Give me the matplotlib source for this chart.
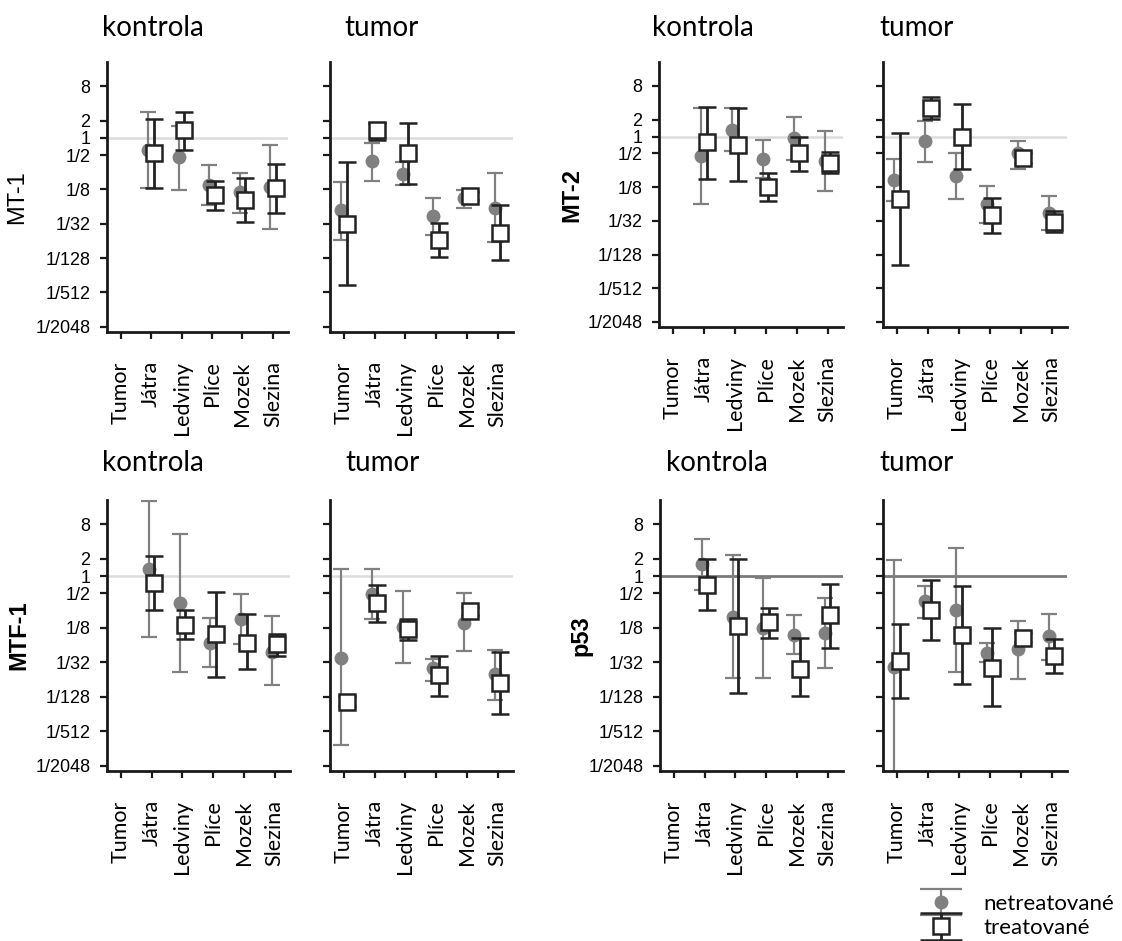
import numpy as np
import matplotlib
matplotlib.use('Agg')
import matplotlib.pyplot as plt
from matplotlib.legend_handler import HandlerErrorbar

plt.rcParams['font.family'] = ['Liberation Sans', 'DejaVu Sans']
CAL = ['Lato', 'DejaVu Sans']

tkane = ['Tumor', 'Játra', 'Ledviny', 'Plíce', 'Mozek', 'Slezina']
ytick_exp = [3, 1, 0, -1, -3, -5, -7, -9, -11]
ytick_lab = ['8', '2', '1', '1/2', '1/8', '1/32', '1/128', '1/512', '1/2048']

nan = np.nan
NA = (nan, nan, nan)

# log2 relativni exprese: (stred, dolni mez, horni mez) pro kazdou tkan
mt1_k_net = [NA, (-0.70, -2.90, 1.53), (-1.12, -3.02, 0.72), (-2.73, -3.90, -1.57), (-3.12, -4.36, -2.03), (-2.83, -5.29, -0.39)]
mt1_k_tr = [NA, (-0.89, -2.90, 1.10), (0.47, -0.68, 1.49), (-3.31, -4.22, -2.48), (-3.64, -4.90, -2.36), (-2.93, -4.36, -1.51)]
mt1_t_net = [(-4.19, -5.97, -2.54), (-1.36, -2.48, -0.31), (-2.09, -2.77, -1.41), (-4.55, -5.68, -3.49), (-3.51, -4.07, -3.06), (-4.07, -6.07, -2.03)]
mt1_t_tr = [(-5.00, -8.59, -1.41), (0.47, -0.10, 0.87), (-0.87, -2.67, 0.85), (-5.93, -6.94, -4.96), (-3.41, -3.64, -3.16), (-5.54, -7.13, -3.88)]

mt2_k_net = [NA, (-1.18, -3.99, 1.67), (0.39, -0.83, 1.67), (-1.34, -2.46, -0.20), (-0.10, -1.42, 1.18), (-1.43, -3.24, 0.33)]
mt2_k_tr = [NA, (-0.33, -2.50, 1.77), (-0.53, -2.65, 1.67), (-2.99, -3.83, -2.16), (-0.98, -2.02, 0.00), (-1.57, -2.16, -0.94)]
mt2_t_net = [(-2.59, -3.83, -1.32), (-0.26, -1.51, 0.94), (-2.36, -3.69, -0.98), (-3.99, -5.15, -2.91), (-0.98, -1.93, -0.24), (-4.52, -5.56, -3.54)]
mt2_t_tr = [(-3.69, -7.60, 0.20), (1.67, 1.02, 2.32), (0.00, -1.91, 1.91), (-4.68, -5.74, -3.63), (-1.28, -1.57, -0.98), (-5.07, -5.66, -4.42)]

mtf1_k_net = [NA, (0.39, -3.53, 4.34), (-1.54, -5.53, 2.45), (-3.89, -5.26, -2.45), (-2.50, -3.91, -1.06), (-4.37, -6.32, -2.31)]
mtf1_k_tr = [NA, (-0.39, -1.98, 1.16), (-2.83, -3.66, -1.98), (-3.33, -5.82, -0.92), (-3.85, -5.39, -2.18), (-3.95, -4.62, -3.37)]
mtf1_t_net = [(-4.72, -9.77, 0.39), (-1.06, -2.50, 0.39), (-2.93, -5.05, -0.83), (-5.32, -6.07, -4.78), (-2.70, -4.34, -1.00), (-5.68, -7.17, -4.28)]
mtf1_t_tr = [(-7.27, -7.55, -6.94), (-1.54, -2.66, -0.52), (-3.08, -3.70, -2.50), (-5.74, -6.96, -4.62), (-2.02, -2.25, -1.80), (-6.20, -8.00, -4.37)]

p53_k_net = [NA, (0.73, -0.81, 2.18), (-2.35, -5.93, 1.21), (-3.00, -5.93, -0.10), (-3.43, -4.53, -2.27), (-3.28, -5.34, -1.25)]
p53_k_tr = [NA, (-0.52, -1.98, 1.02), (-2.89, -6.78, 1.02), (-2.66, -3.56, -1.83), (-5.36, -6.96, -3.56), (-2.23, -4.14, -0.44)]
p53_t_net = [(-5.26, -14.0, 0.94), (-1.45, -2.41, -0.58), (-1.97, -5.55, 1.64), (-4.45, -4.97, -3.85), (-4.24, -5.97, -2.60), (-3.47, -4.85, -2.21)]
p53_t_tr = [(-4.91, -7.07, -2.75), (-1.97, -3.68, -0.23), (-3.43, -6.28, -0.54), (-5.30, -7.51, -3.02), (-3.56, -3.80, -3.30), (-4.62, -5.60, -3.62)]

W, H = 1122, 941
fig = plt.figure(figsize=(W / 100, H / 100), dpi=100)

GRAY = '#808080'
DARK = '#222222'


def rect(left, top, right, bottom):
    return [left / W, 1 - bottom / H, (right - left) / W, (bottom - top) / H]


def draw_series(ax, data, dx, color, **kw):
    arr = np.exp2(np.array(data, dtype=float))
    x = np.arange(len(tkane)) + dx
    mid, lo, hi = arr[:, 0], arr[:, 1], arr[:, 2]
    return ax.errorbar(x, mid, yerr=[mid - lo, hi - mid], color=color,
                       ecolor=color, linestyle='none', **kw)


def panel(r, net, tr, ylabel=None, bold=False, labcoord=-0.43, dark_ref=False):
    ax = fig.add_axes(r)
    ax.set_yscale('log', base=2)
    if dark_ref:
        ax.axhline(1, color='#7a7a7a', lw=2, zorder=1)
    else:
        ax.axhline(1, color='#dcdcdc', lw=1.8, zorder=1)
    c_net = draw_series(ax, net, -0.09, GRAY, marker='o', ms=9, mfc=GRAY, mec=GRAY,
                        elinewidth=1.6, capsize=6, capthick=1.6, zorder=2)
    c_tr = draw_series(ax, tr, 0.09, DARK, marker='s', ms=11, mfc='white', mec=DARK,
                       mew=1.8, elinewidth=2, capsize=6.5, capthick=2, zorder=3)
    ax.set_xlim(-0.45, 5.5)
    ax.set_ylim(2 ** -11.3, 2 ** 4.42)
    ax.set_xticks(range(len(tkane)))
    ax.set_xticklabels(tkane, rotation=90, fontsize=15.5, family=CAL)
    ax.set_yticks([2.0 ** e for e in ytick_exp])
    ax.minorticks_off()
    if ylabel:
        ax.set_yticklabels(ytick_lab, fontsize=13)
        ax.set_ylabel(ylabel, fontsize=17, fontweight='bold' if bold else 'normal')
        ax.yaxis.set_label_coords(labcoord, 0.5)
    else:
        ax.set_yticklabels([])
    for s in ('top', 'right'):
        ax.spines[s].set_visible(False)
    for s in ('left', 'bottom'):
        ax.spines[s].set_linewidth(2)
        ax.spines[s].set_color('#1a1a1a')
    ax.tick_params(axis='both', length=5, width=1.6, color='#1a1a1a')
    ax.tick_params(axis='y', pad=7)
    ax.tick_params(axis='x', pad=16)
    return ax, c_net, c_tr


panel(rect(107, 62, 288, 332), mt1_k_net, mt1_k_tr, 'MT-1', labcoord=-0.436)
panel(rect(330, 62, 513, 332), mt1_t_net, mt1_t_tr)
panel(rect(659, 62, 843, 327), mt2_k_net, mt2_k_tr, 'MT-2', bold=True, labcoord=-0.41)
panel(rect(883, 62, 1067, 327), mt2_t_net, mt2_t_tr)
panel(rect(107, 500, 290, 771), mtf1_k_net, mtf1_k_tr, 'MTF-1', bold=True, labcoord=-0.42)
panel(rect(330, 500, 513, 771), mtf1_t_net, mtf1_t_tr)
panel(rect(660, 500, 843, 771), p53_k_net, p53_k_tr, 'p53', bold=True, labcoord=-0.37, dark_ref=True)
ax, c_net, c_tr = panel(rect(883, 500, 1067, 771), p53_t_net, p53_t_tr, dark_ref=True)

titles = [('kontrola', 102, 28), ('tumor', 344, 28), ('kontrola', 652, 28), ('tumor', 879, 28),
          ('kontrola', 102, 463), ('tumor', 345, 463), ('kontrola', 666, 463), ('tumor', 879, 463)]
for t, x, y in titles:
    fig.text(x / W, 1 - y / H, t, fontsize=20, family=CAL, ha='left', va='center')

leg = fig.legend([c_net, c_tr], ['netreatované', 'treatované'], loc='center left',
                 bbox_to_anchor=(903 / W, 1 - 916 / H), frameon=False,
                 prop={'family': CAL, 'size': 16}, borderpad=0.2,
                 handlelength=2.0, labelspacing=0.2, handletextpad=0.9,
                 handler_map={type(c_net): HandlerErrorbar(xerr_size=0.5, yerr_size=0.59)})
for ln in leg.findobj(matplotlib.lines.Line2D):
    if ln.get_marker() == '_':
        ln.set_markersize(30)

fig.savefig('out.png', dpi=100)
